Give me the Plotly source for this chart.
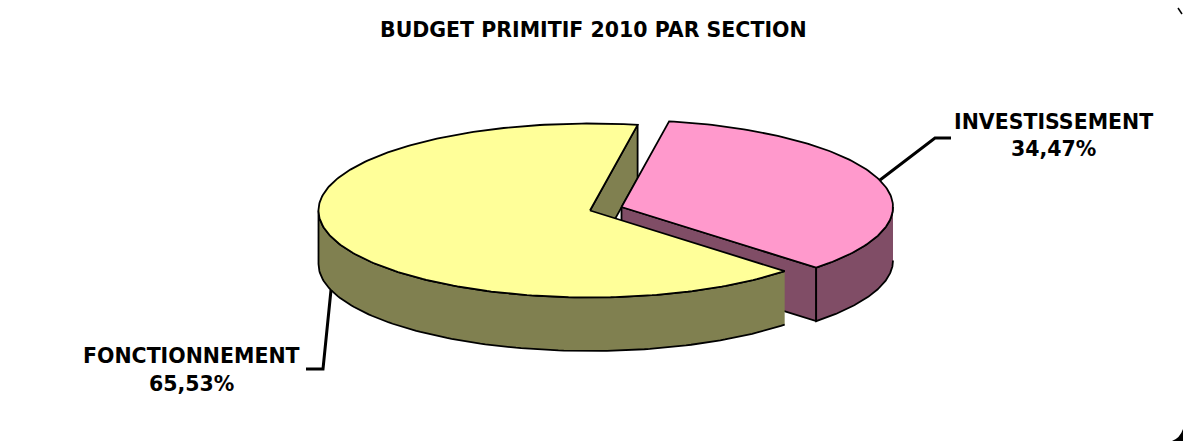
import numpy as np
import plotly.graph_objects as go

# Budget sections and their shares, in percent
sections = ["INVESTISSEMENT", "FONCTIONNEMENT"]
shares = [34.47, 65.53]
share_labels = ["34,47%", "65,53%"]
title = "BUDGET PRIMITIF 2010 PAR SECTION"

top_colors = ["#FF99CC", "#FFFF99"]
wall_colors = ["#804D66", "#808050"]

# Projection of the tilted pie onto the page, in pixels
W, H = 1183, 441
CX, CY = 590.0, 210.5
RX, RY = 271.5, 87.0
DEPTH = 53.5
FIRST_ANGLE = 10.1
EXPLODE = (31.5, -3.5)


def rim(cx, cy, deg):
    """Rim point at a clockwise angle measured from twelve o'clock."""
    a = np.radians(deg)
    return cx + RX * np.sin(a), cy - RY * np.cos(a)


def arc(cx, cy, start, end, n=120):
    return rim(cx, cy, np.linspace(start, end, n))


def polygon(fig, xs, ys, fill, name):
    fig.add_trace(go.Scatter(
        x=list(xs), y=list(ys), mode="lines", fill="toself", fillcolor=fill,
        line=dict(color="black", width=1.8), hoverinfo="skip", name=name,
    ))


def closed(*parts):
    return np.concatenate(parts)


sweep = [s / sum(shares) * 360 for s in shares]
inv_start, inv_end = FIRST_ANGLE, FIRST_ANGLE + sweep[0]
fon_start, fon_end = inv_end, inv_end + sweep[1]
icx, icy = CX + EXPLODE[0], CY + EXPLODE[1]

fig = go.Figure()

# Cut face of the large slice, seen through the gap between the two slices
ex, ey = rim(CX, CY, fon_end)
polygon(fig, [CX, ex, ex, CX, CX], [CY, ey, ey + DEPTH, CY + DEPTH, CY],
        wall_colors[1], "cut " + sections[1])

# Detached slice: cut face, outer wall, top
ex, ey = rim(icx, icy, inv_end)
polygon(fig, [icx, ex, ex, icx, icx], [icy, ey, ey + DEPTH, icy + DEPTH, icy],
        wall_colors[0], "cut " + sections[0])
wx, wy = arc(icx, icy, 90, inv_end)
polygon(fig, closed(wx, wx[::-1]), closed(wy, wy[::-1] + DEPTH),
        wall_colors[0], "wall " + sections[0])
tx, ty = arc(icx, icy, inv_start, inv_end)
polygon(fig, closed([icx], tx, [icx]), closed([icy], ty, [icy]),
        top_colors[0], sections[0])

# Large slice: outer wall, top
wx, wy = arc(CX, CY, fon_start, 270)
polygon(fig, closed(wx, wx[::-1]), closed(wy, wy[::-1] + DEPTH),
        wall_colors[1], "wall " + sections[1])
tx, ty = arc(CX, CY, fon_start, fon_end, 240)
polygon(fig, closed([CX], tx, [CX]), closed([CY], ty, [CY]),
        top_colors[1], sections[1])

# Leader lines from the slices to their labels
fig.add_trace(go.Scatter(x=[880, 935, 951], y=[180, 138, 138], mode="lines",
                         line=dict(color="black", width=3), hoverinfo="skip"))
fig.add_trace(go.Scatter(x=[331, 323, 306], y=[290, 369, 369], mode="lines",
                         line=dict(color="black", width=3), hoverinfo="skip"))

FONT = dict(family="DejaVu Sans, Open Sans, sans-serif", color="black", size=20.5)
annotations = [
    dict(x=593, y=30, text=f"<b>{title}</b>"),
    dict(x=1053, y=122, text=f"<b>{sections[0]}</b>"),
    dict(x=1053, y=149, text=f"<b>{share_labels[0]}</b>"),
    dict(x=191, y=356, text=f"<b>{sections[1]}</b>"),
    dict(x=191, y=384, text=f"<b>{share_labels[1]}</b>"),
]

fig.update_layout(
    width=W, height=H, margin=dict(l=0, r=0, t=0, b=0),
    paper_bgcolor="white", plot_bgcolor="white", showlegend=False,
    xaxis=dict(range=[0, W], visible=False, fixedrange=True),
    yaxis=dict(range=[H, 0], visible=False, fixedrange=True),
    annotations=[dict(a, xref="x", yref="y", showarrow=False, font=FONT,
                      xanchor="center", yanchor="middle") for a in annotations],
    # Clipped dark frame corners at the page edge
    shapes=[
        dict(type="path", xref="x", yref="y", line_width=0, fillcolor="black",
             path=f"M {W} 429 Q {W-3} 438 1172 {H} L {W} {H} Z"),
        dict(type="line", xref="x", yref="y", x0=1178, y0=8, x1=1182, y1=14,
             line=dict(color="black", width=1.5)),
    ],
)

fig.write_html("out.html", config=dict(displayModeBar=False))
